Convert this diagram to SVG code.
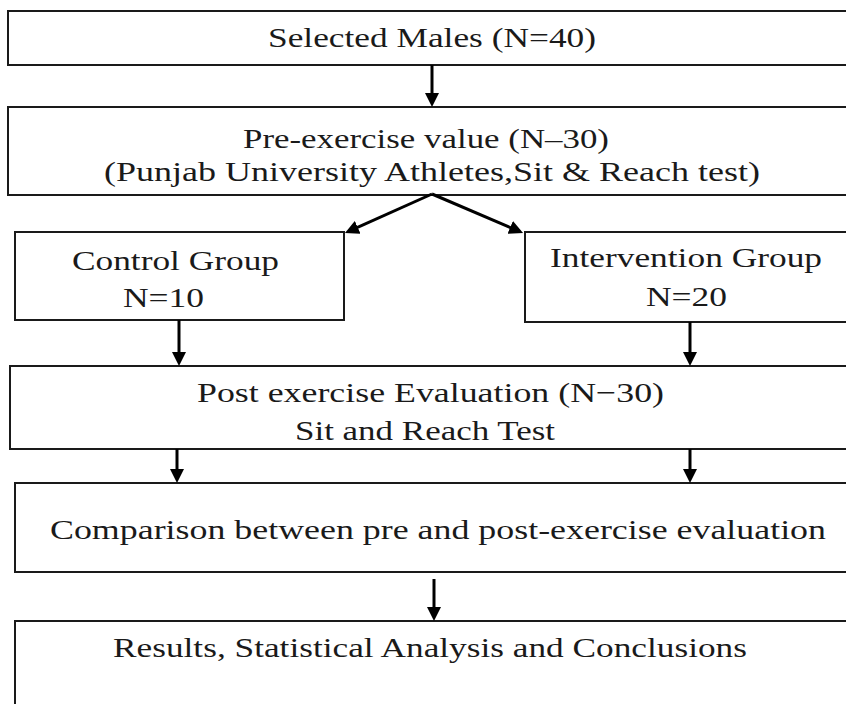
<svg xmlns="http://www.w3.org/2000/svg" width="846" height="704" viewBox="0 0 846 704">
<style>
.box{fill:#ffffff;stroke:#1a1a1a;stroke-width:2}
.t{font-family:"Liberation Serif","Times New Roman",serif;font-size:28px;fill:#1a1a1a}
.c{stroke:#000;stroke-width:3;fill:none;marker-end:url(#ah)}
</style>
<defs>
<marker id="ah" viewBox="0 0 14 14" refX="10" refY="7" markerWidth="14" markerHeight="14" markerUnits="userSpaceOnUse" orient="auto">
<path d="M0,0 L14,7 L0,14 z" fill="#000"/>
</marker>
</defs>
<rect width="846" height="704" fill="#ffffff"/>
<g id="n1">
<rect class="box" x="8" y="11" width="850" height="54"/>
<text class="t" x="268" y="47" textLength="328" lengthAdjust="spacingAndGlyphs">Selected Males (N=40)</text>
</g>
<g id="n2">
<rect class="box" x="8" y="107" width="850" height="88"/>
<text class="t" x="243" y="148" textLength="366" lengthAdjust="spacingAndGlyphs">Pre-exercise value (N–30)</text>
<text class="t" x="104" y="181" textLength="656" lengthAdjust="spacingAndGlyphs">(Punjab University Athletes,Sit &amp; Reach test)</text>
</g>
<g id="n3">
<rect class="box" x="15" y="232" width="329" height="88"/>
<text class="t" x="72" y="270" textLength="207" lengthAdjust="spacingAndGlyphs">Control Group</text>
<text class="t" x="123" y="307" textLength="81" lengthAdjust="spacingAndGlyphs">N=10</text>
</g>
<g id="n4">
<rect class="box" x="525" y="232" width="330" height="90"/>
<text class="t" x="550" y="267" textLength="272" lengthAdjust="spacingAndGlyphs">Intervention Group</text>
<text class="t" x="646" y="306" textLength="81" lengthAdjust="spacingAndGlyphs">N=20</text>
</g>
<g id="n5">
<rect class="box" x="10" y="366" width="850" height="83"/>
<text class="t" x="197" y="402" textLength="467" lengthAdjust="spacingAndGlyphs">Post exercise Evaluation (N−30)</text>
<text class="t" x="295" y="440" textLength="260" lengthAdjust="spacingAndGlyphs">Sit and Reach Test</text>
</g>
<g id="n6">
<rect class="box" x="15" y="483" width="850" height="89"/>
<text class="t" x="50" y="539" textLength="776" lengthAdjust="spacingAndGlyphs">Comparison between pre and post-exercise evaluation</text>
</g>
<g id="n7">
<rect class="box" x="15" y="621" width="850" height="100"/>
<text class="t" x="113" y="657" textLength="634" lengthAdjust="spacingAndGlyphs">Results, Statistical Analysis and Conclusions</text>
</g>
<g id="connectors">
<path class="c" d="M432,65 L432,103"/>
<path class="c" d="M432,194 L348.6,231.4"/>
<path class="c" d="M432,194 L519.4,231.4"/>
<path class="c" d="M179,320 L179,362"/>
<path class="c" d="M690,322 L690,362"/>
<path class="c" d="M177,449 L177,479"/>
<path class="c" d="M690,449 L690,479"/>
<path class="c" d="M434,579 L434,617"/>
</g>
</svg>
